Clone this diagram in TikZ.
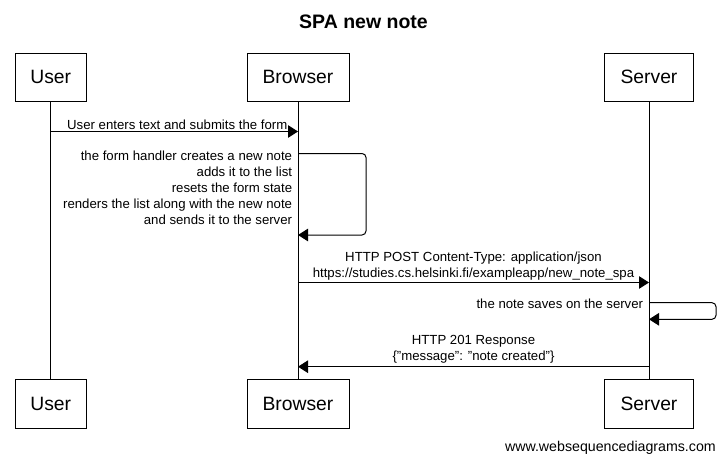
\documentclass[tikz,border=0pt]{standalone}
\usepackage{fontspec}
\setmainfont{Liberation Sans}
\usetikzlibrary{arrows.meta}
\tikzset{
  actor/.style={draw, line width=1pt, inner sep=0pt, font=\fontsize{19.3}{23}\selectfont},
  lifeline/.style={draw, line width=1pt},
  msg/.style={draw, line width=1pt, -{Triangle[length=10pt,width=12.5pt]}},
  selfmsg/.style={msg, rounded corners=4pt},
  lbl/.style={inner sep=0pt, font=\fontsize{13.2}{16}\selectfont},
}
\begin{document}
\begin{tikzpicture}[x=1pt,y=-1pt]
\useasboundingbox (0,0) rectangle (726,463);
\node[font=\bfseries\fontsize{19.5}{23}\selectfont] (title) at (363.5,22) {SPA new note};
% participants top
\node[actor, minimum width=71pt, minimum height=48.5pt] (userT) at (50.7,77.3) {User};
\node[actor, minimum width=102pt, minimum height=48.5pt] (browserT) at (298,77.3) {Browser};
\node[actor, minimum width=89.5pt, minimum height=48.5pt] (serverT) at (649,77.3) {Server};
% participants bottom
\node[actor, minimum width=71pt, minimum height=49pt] (userB) at (50.7,403.7) {User};
\node[actor, minimum width=102pt, minimum height=49pt] (browserB) at (298,403.7) {Browser};
\node[actor, minimum width=89.5pt, minimum height=49pt] (serverB) at (649,403.7) {Server};
% lifelines
\draw[lifeline] (userT.south) -- (userB.north);
\draw[lifeline] (browserT.south) -- (browserB.north);
\draw[lifeline] (serverT.south) -- (serverB.north);
% message 1
\coordinate (m1s) at (userT.south |- 0,131.5);
\coordinate (m1e) at (browserT.south |- 0,131.5);
\draw[msg] (m1s) -- (m1e);
\node[lbl, anchor=base east] (m1l) at (287.5,129.7) {User enters text and submits the form};
% self message browser
\coordinate (b1s) at (browserT.south |- 0,153.5);
\coordinate (b1a) at (366,153.5);
\coordinate (b1b) at (366,235);
\coordinate (b1e) at (browserT.south |- 0,235);
\draw[selfmsg] (b1s) -- (b1a) -- (b1b) -- (b1e);
\node[lbl, anchor=north east, align=right] (b1l) at (292.3,150.3) {the form handler creates a new note\\adds it to the list\\resets the form state\\renders the list along with the new note\\and sends it to the server};
% message 3
\coordinate (m3s) at (browserT.south |- 0,282.5);
\coordinate (m3e) at (serverT.south |- 0,282.5);
\draw[msg] (m3s) -- (m3e);
\node[lbl, anchor=north, align=center] (m3l) at (473.5,251.8) {HTTP POST Content-Type: application/json\\https://studies.cs.helsinki.fi/exampleapp/new\_note\_spa};
% self message server
\coordinate (s1s) at (serverT.south |- 0,302.7);
\coordinate (s1a) at (716,302.7);
\coordinate (s1b) at (716,319.3);
\coordinate (s1e) at (serverT.south |- 0,319.3);
\draw[selfmsg] (s1s) -- (s1a) -- (s1b) -- (s1e);
\node[lbl, anchor=base east] (s1l) at (643.3,308) {the note saves on the server};
% message 4
\coordinate (m4s) at (serverT.south |- 0,366.7);
\coordinate (m4e) at (browserT.south |- 0,366.7);
\draw[msg] (m4s) -- (m4e);
\node[lbl, anchor=north, align=center] (m4l) at (473.5,335.2) {HTTP 201 Response\\\{"message": "note created"\}};
% footer
\node[inner sep=0pt, anchor=base east, font=\fontsize{14.2}{16}\selectfont] (footer) at (716,451.5) {www.websequencediagrams.com};
\end{tikzpicture}
\end{document}
